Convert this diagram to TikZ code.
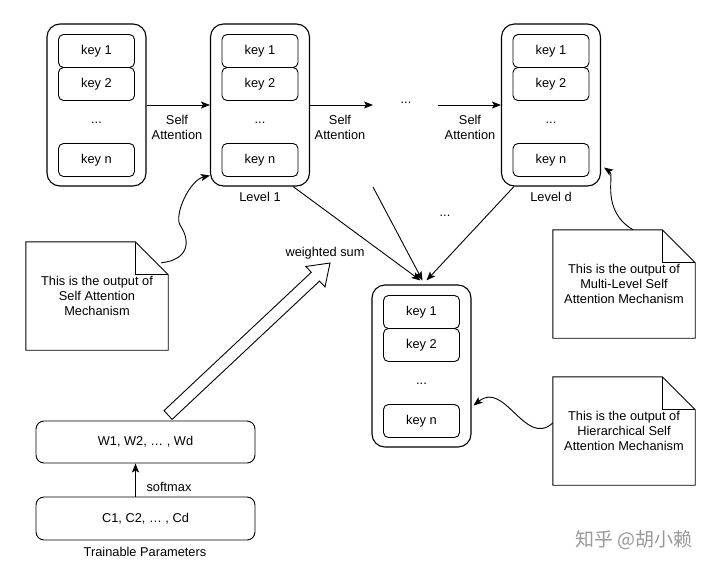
\documentclass[tikz,border=0pt]{standalone}
\usepackage{fontspec}
\setmainfont{Liberation Sans}
\newfontfamily\cjk{Noto Sans CJK SC}
\usetikzlibrary{arrows.meta,calc}

\newcommand\keystack[3]{% name, x center, y top
  \node[container] (#1) at (#2,#3+81) {};
  \node[keybox] (#1k1) at (#2,#3+27) {key 1};
  \node[keybox] (#1k2) at (#2,#3+60) {key 2};
  \node[lbl] (#1dots) at (#2,#3+99) {...};
  \node[keybox] (#1kn) at (#2,#3+136) {key n};
}
\newcommand\mynote[4]{% name, x left, y top, text
  \node[notebox] (#1) at (#2+71,#3+54) {#4};
  \draw[note] (#1.south west) -- (#1.north west) -- ([xshift=-33pt]#1.north east)
     -- ([yshift=-33pt]#1.north east) -- (#1.south east) -- cycle;
  \draw[note] ([xshift=-33pt]#1.north east) -- ([xshift=-33pt,yshift=-33pt]#1.north east)
     -- ([yshift=-33pt]#1.north east);
}

\begin{document}
\begin{tikzpicture}[x=1pt,y=-1pt,
  lbl/.style={font=\fontsize{12.8}{15}\selectfont, align=center, inner sep=0pt},
  container/.style={draw, line width=1.1pt, rounded corners=13pt, minimum width=99pt, minimum height=162pt, inner sep=0pt},
  keybox/.style={lbl, draw, line width=0.9pt, rounded corners=5pt, minimum width=76pt, minimum height=33pt},
  conn/.style={line width=0.9pt, -{Stealth[length=9pt,width=7pt,inset=2pt]}},
  plainline/.style={line width=0.9pt},
  notebox/.style={lbl, minimum width=142pt, minimum height=108pt},
  note/.style={draw, line width=0.9pt, line join=miter},
  parambox/.style={lbl, draw, line width=0.9pt, rounded corners=8pt, minimum width=219pt, minimum height=42pt}]

\useasboundingbox (0,0) rectangle (720,571);
\fill[white] (0,0) rectangle (720,571);

% key stacks
\keystack{c0}{96.5}{24}
\keystack{c1}{260}{24}
\keystack{cd}{551}{24}
\keystack{ch}{421.5}{285}

\node[lbl] (lev1) at (260,197) {Level 1};
\node[lbl] (levd) at (551,197) {Level d};

% self attention chain
\coordinate (a2e) at (373,105);
\coordinate (a3s) at (438,105);
\node[lbl] (hdots) at (406,103) {...};
\draw[conn] (c0.east) -- (c1.west);
\draw[conn] (c1.east) -- (a2e);
\draw[conn] (a3s) -- (cd.west);
\node[lbl] (sa1) at (177,127) {Self\\Attention};
\node[lbl] (sa2) at (340,127) {Self\\Attention};
\node[lbl] (sa3) at (470,127) {Self\\Attention};

% converging lines
\coordinate (mid) at (373,187);
\node[lbl] (vdots) at (445,216) {...};
\draw[conn] ([xshift=-17pt]c1.south east) -- ([xshift=-1pt,yshift=4pt]ch.north);
\draw[conn] (mid) -- ([xshift=1pt,yshift=4pt]ch.north);
\draw[conn] ([xshift=13pt]cd.south west) -- ([xshift=5pt,yshift=4pt]ch.north);

% notes
\mynote{n1}{26}{242}{This is the output of\\Self Attention\\Mechanism}
\mynote{n2}{553}{230}{This is the output of\\Multi-Level Self\\Attention Mechanism}
\mynote{n3}{553}{377}{This is the output of\\Hierarchical Self\\Attention Mechanism}

\draw[conn] ([xshift=-7pt,yshift=-21pt]n1.north east) .. controls (187,260) and (192,243) .. (180,225)
   .. controls (174,214) and (190,180) .. ([yshift=11pt]c1.south west);
\draw[conn] ([xshift=9pt]n2.north) .. controls (600,210) and (615,175) .. ([xshift=3pt,yshift=19pt]cd.south east);
\draw[conn] ([yshift=8pt]n3.west) .. controls (525,448) and (505,380) .. ([xshift=2pt,yshift=42pt]ch.south east);

% trainable parameters
\node[parambox] (wbox) at (145.5,442) {W1, W2, \dots\ , Wd};
\node[parambox, minimum height=43pt] (cbox) at (145.5,518.5) {C1, C2, \dots\ , Cd};
\draw[conn] ([xshift=-10pt]cbox.north) -- ([xshift=-10pt]wbox.south);
\node[lbl] (smax) at (169,487) {softmax};
\node[lbl] (tp) at (145,552) {Trainable Parameters};

% weighted sum hollow arrow
\draw[note, fill=white] (164,410.6) -- (311.3,272.3) -- (305.8,266.5) -- (330,263)
   -- (325,286.9) -- (319.5,281.1) -- (172.1,419.4) -- cycle;
\node[lbl] (ws) at (325,253) {weighted sum};

% watermark
\node[inner sep=0pt, text=black!40, font=\cjk\fontsize{19}{22}\selectfont] (wm) at (634,540) {知乎 @胡小赖};
\end{tikzpicture}
\end{document}
